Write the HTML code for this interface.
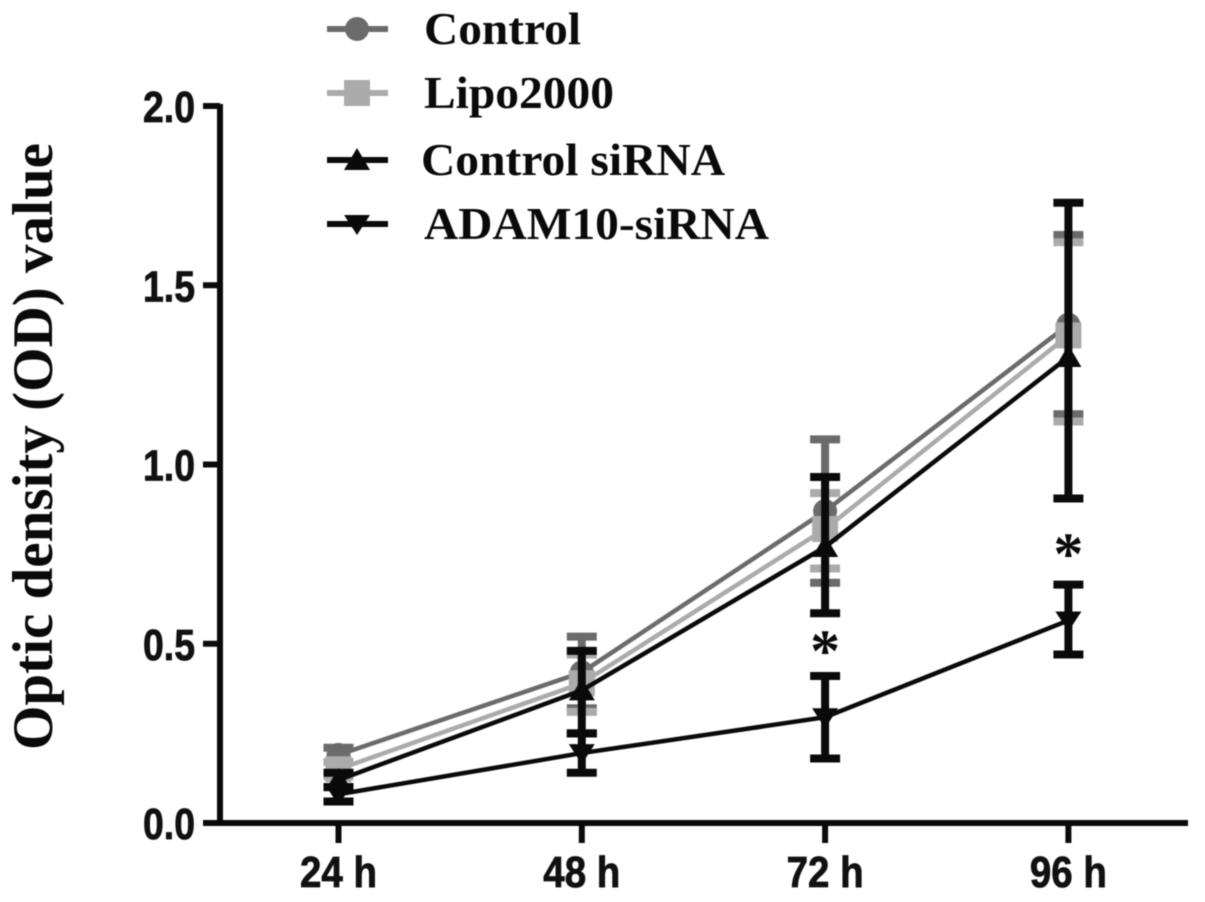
<!DOCTYPE html>
<html lang="en">
<head>
<meta charset="utf-8">
<title>Optic density chart</title>
<style>
html,body{margin:0;padding:0;background:#fff;width:1205px;height:902px;overflow:hidden}
svg{display:block;position:absolute;left:0;top:0;filter:blur(0.5px)}
.tick{font-family:"Liberation Sans",sans-serif;font-weight:700;font-size:44px;fill:#111;stroke:#111;stroke-width:0.8px}
.serif{font-family:"Liberation Serif",serif;font-weight:700;fill:#0a0a0a}
</style>
</head>
<body>
<svg id="chart" width="1205" height="902" viewBox="0 0 1205 902" xmlns="http://www.w3.org/2000/svg">
  <text class="serif" font-size="57" transform="translate(52,750) rotate(-90)" textLength="607" lengthAdjust="spacingAndGlyphs">Optic density (OD) value</text>
  <g id="axes"></g>
  <g id="series"></g>
  <g id="legend"></g>
</svg>
<script>
const categories = ['24 h', '48 h', '72 h', '96 h'];
const yTicks = [0, 0.5, 1, 1.5, 2];
const yTickLabels = ['0.0', '0.5', '1.0', '1.5', '2.0'];
const seriesNames = ['Control', 'Lipo2000', 'Control siRNA', 'ADAM10-siRNA'];
const controlMean = [0.19, 0.42, 0.87, 1.39];
const controlUpper = [0.21, 0.52, 1.07, 1.64];
const controlLower = [0.17, 0.32, 0.67, 1.14];
const lipoMean = [0.15, 0.39, 0.82, 1.36];
const lipoUpper = [0.17, 0.47, 0.92, 1.62];
const lipoLower = [0.13, 0.31, 0.71, 1.12];
const sirnaMean = [0.12, 0.37, 0.77, 1.30];
const sirnaUpper = [0.14, 0.48, 0.965, 1.73];
const sirnaLower = [0.10, 0.25, 0.585, 0.905];
const adamMean = [0.08, 0.195, 0.295, 0.565];
const adamUpper = [0.10, 0.25, 0.41, 0.665];
const adamLower = [0.06, 0.14, 0.18, 0.47];
const significantFlags = [false, false, true, true];
const significantValues = [0, 0, 0.50, 0.77];

const NS = 'http://www.w3.org/2000/svg';
function xPos(i) { return 338.5 + i * 243.3; }
function yPos(v) { return 823 - v * 358.5; }
function mk(tag, attrs, parent) {
  const el = document.createElementNS(NS, tag);
  for (const k in attrs) el.setAttribute(k, attrs[k]);
  parent.appendChild(el);
  return el;
}
function marker(shape, cx, cy, color, parent) {
  let el;
  if (shape === 'circle') {
    el = mk('circle', { cx: cx, cy: cy, r: 12, fill: color }, parent);
  } else if (shape === 'square') {
    el = mk('rect', { x: cx - 13, y: cy - 13, width: 26, height: 26, fill: color }, parent);
  } else if (shape === 'up') {
    el = mk('polygon', { points: cx + ',' + (cy - 12) + ' ' + (cx + 13) + ',' + (cy + 10) + ' ' + (cx - 13) + ',' + (cy + 10), fill: color }, parent);
  } else {
    el = mk('polygon', { points: cx + ',' + (cy + 11) + ' ' + (cx + 13) + ',' + (cy - 9) + ' ' + (cx - 13) + ',' + (cy - 9), fill: color }, parent);
  }
  return el;
}

const axes = document.getElementById('axes');
const yAxis = mk('line', { x1: 220, y1: yPos(2) - 2, x2: 220, y2: yPos(0) + 3, stroke: '#0a0a0a', 'stroke-width': 6 }, axes);


const xAxis = mk('line', { x1: 203, y1: yPos(0), x2: 1188, y2: yPos(0), stroke: '#0a0a0a', 'stroke-width': 6 }, axes);



yTicks.forEach(function (v, i) {
  const t = mk('line', { x1: 203, y1: yPos(v), x2: 220, y2: yPos(v), stroke: '#0a0a0a', 'stroke-width': 6 }, axes);
  
  
  const l = mk('text', { x: 143, y: yPos(v) + 16, class: 'tick', textLength: 52, lengthAdjust: 'spacingAndGlyphs' }, axes);
  l.textContent = yTickLabels[i];
  
  
});
categories.forEach(function (c, i) {
  const t = mk('line', { x1: xPos(i), y1: yPos(0), x2: xPos(i), y2: yPos(0) + 20, stroke: '#0a0a0a', 'stroke-width': 6 }, axes);
  
  
  const l = mk('text', { x: xPos(i), y: 887, class: 'tick', 'text-anchor': 'middle', textLength: 77, lengthAdjust: 'spacingAndGlyphs' }, axes);
  l.textContent = c;
  
  
});

const seriesDefs = [
  { mean: controlMean, up: controlUpper, lo: controlLower, color: '#6b6b6b', shape: 'circle', key: 'control' },
  { mean: lipoMean, up: lipoUpper, lo: lipoLower, color: '#ababab', shape: 'square', key: 'lipo2000' },
  { mean: sirnaMean, up: sirnaUpper, lo: sirnaLower, color: '#0a0a0a', shape: 'up', key: 'control-sirna' },
  { mean: adamMean, up: adamUpper, lo: adamLower, color: '#0a0a0a', shape: 'down', key: 'adam10-sirna' }
];
const seriesRoot = document.getElementById('series');
seriesDefs.forEach(function (s) {
  const g = mk('g', {}, seriesRoot);
  
  
  const pts = s.mean.map(function (v, i) { return xPos(i) + ',' + yPos(v); }).join(' ');
  const line = mk('polyline', { points: pts, fill: 'none', stroke: s.color, 'stroke-width': 4.5 }, g);
  
  
  s.mean.forEach(function (v, i) {
    const x = xPos(i);
    const eb = mk('path', {
      d: 'M' + x + ' ' + yPos(s.up[i]) + 'V' + yPos(s.lo[i]) +
         'M' + (x - 15) + ' ' + yPos(s.up[i]) + 'H' + (x + 15) +
         'M' + (x - 15) + ' ' + yPos(s.lo[i]) + 'H' + (x + 15),
      fill: 'none', stroke: s.color, 'stroke-width': 8
    }, g);
    
    
    const m = marker(s.shape, x, yPos(v), s.color, g);
    
    
  });
});

significantFlags.forEach(function (f, i) {
  if (!f) return;
  const st = mk('text', { x: xPos(i), y: yPos(significantValues[i]) + 27, class: 'serif', 'font-size': 60, 'text-anchor': 'middle' }, seriesRoot);
  st.textContent = '*';
  
  
});

const legend = document.getElementById('legend');
const legendRowY = [29, 93, 160, 224];
const legendTextX = [424, 424, 421, 424];
const legendTextLen = [157, 190, 304, 345];
seriesNames.forEach(function (name, i) {
  const s = seriesDefs[i];
  const g = mk('g', {}, legend);
  
  
  const y = legendRowY[i];
  const ln = mk('line', { x1: 327, y1: y, x2: 388, y2: y, stroke: s.color, 'stroke-width': 6 }, g);
  
  
  const m = marker(s.shape, 357, y, s.color, g);
  
  
  const t = mk('text', { x: legendTextX[i], y: y + 15, class: 'serif', 'font-size': 46, textLength: legendTextLen[i], lengthAdjust: 'spacingAndGlyphs' }, g);
  t.textContent = name;
  
  
});
</script>
</body>
</html>
